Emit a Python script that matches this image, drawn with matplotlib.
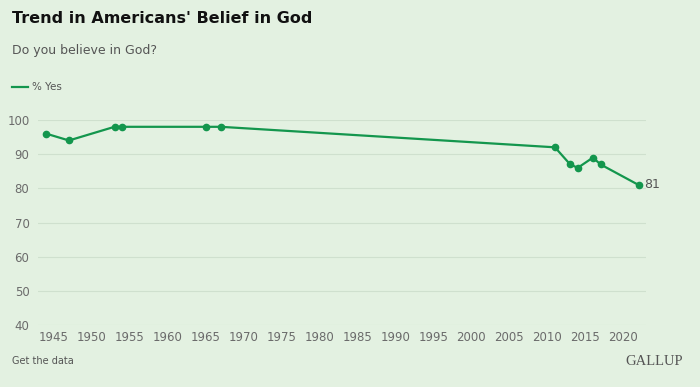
import matplotlib.pyplot as plt

# datos
anios = [1944, 1947, 1953, 1954, 1965, 1967, 2011, 2013, 2014, 2016, 2017, 2022]
si = [96, 94, 98, 98, 98, 98, 92, 87, 86, 89, 87, 81]
ticks_x = list(range(1945, 2021, 5))
ticks_y = [40, 50, 60, 70, 80, 90, 100]

fondo = '#e3f1e1'
verde = '#13964d'
gris = '#6b6b6b'

fig = plt.figure(figsize=(7, 3.87), dpi=100, facecolor=fondo)
ax = fig.add_axes([0.054, 0.16, 0.869, 0.53], facecolor=fondo)

ax.plot(anios, si, color=verde, linewidth=1.6, marker='o', markersize=4.5, clip_on=False, zorder=3)
ax.text(anios[-1] + 0.8, si[-1], str(si[-1]), color='#555555', fontsize=9, va='center', ha='left')

ax.set_xlim(1942.9, 2023)
ax.set_ylim(40, 100)
ax.set_xticks(ticks_x)
ax.set_yticks(ticks_y)
ax.tick_params(length=0, labelsize=8.5, labelcolor=gris, pad=4)
ax.tick_params(axis='y', pad=6)
ax.grid(axis='y', color='#cfe0ce', linewidth=0.8)
for s in ax.spines.values():
    s.set_visible(False)

fig.text(0.017, 0.953, "Trend in Americans' Belief in God", fontsize=11.5, fontweight='bold', color='#111111', va='center')
fig.text(0.017, 0.87, "Do you believe in God?", fontsize=9, color='#555555', va='center')
fig.lines.append(plt.Line2D([0.017, 0.04], [0.775, 0.775], color=verde, linewidth=1.6, transform=fig.transFigure))
fig.text(0.045, 0.775, "% Yes", fontsize=7.5, color='#555555', va='center')
fig.text(0.017, 0.067, "Get the data", fontsize=7, color='#555555', va='center')
fig.text(0.975, 0.067, "GALLUP", fontsize=10.5, family='Liberation Serif', color='#555555', va='center', ha='right')

plt.savefig('out.png', facecolor=fondo)
